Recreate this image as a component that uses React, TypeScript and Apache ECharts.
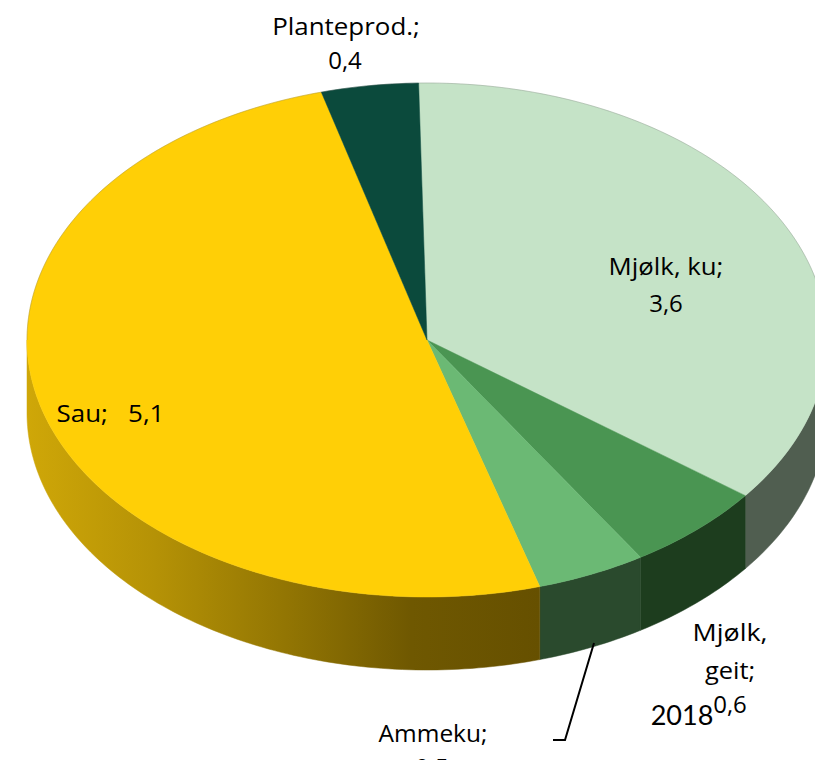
import React, { useEffect, useRef } from "react";
import * as echarts from "echarts";

const categories = ["Mjølk, ku", "Mjølk, geit", "Ammeku", "Sau", "Planteprod."];
const values = [3.64, 0.58, 0.45, 5.13, 0.4];
const topColors = ["#c5e3c7", "#4a9552", "#6bb974", "#ffcf06", "#0b4a3c"];
const sideColors: any[] = ["#505e50", "#1d3d1e", "#2a4a2d", null, "#0b4a3c"];
const sauSideStops = ["#cfa708", "#b59206", "#937603", "#6f5801", "#665000"];

const CX = 427, CY = 340, RX = 400, RY = 257, DEPTH = 73, START = -1.2;
const FONT = '"Open Sans", Lato, sans-serif';

const total = values.reduce((a, b) => a + b, 0);
const spans = values.map((_, i) => {
  const before = values.slice(0, i).reduce((a, b) => a + b, 0);
  return [START + (before / total) * 360, START + ((before + values[i]) / total) * 360];
});
const pt = (deg: number, dy = 0) => {
  const r = (deg * Math.PI) / 180;
  return [CX + RX * Math.sin(r), CY - RY * Math.cos(r) + dy];
};
const arc = (a: number, b: number, dy = 0) => {
  const n = Math.max(2, Math.ceil(Math.abs(b - a)));
  const out: number[][] = [];
  for (let i = 0; i <= n; i++) out.push(pt(a + ((b - a) * i) / n, dy));
  return out;
};
const fmt = (v: number) => v.toFixed(1).replace(".", ",");

const renderTop = (params: any) => {
  const i = params.dataIndex;
  const [a, b] = spans[i];
  const children: any[] = [
    {
      type: "polygon",
      shape: { points: [[CX, CY], ...arc(a, b)] },
      style: { fill: topColors[i], stroke: topColors[i], lineWidth: 0.5 },
    },
  ];
  // faint grey rim along the back half of the disc
  const rimA = a < 90 ? a : Math.max(a, 270);
  const rimB = a < 90 ? Math.min(b, 90) : b;
  if (rimB > rimA) {
    children.push({
      type: "polyline",
      shape: { points: arc(rimA, rimB) },
      style: { stroke: "rgba(90,90,90,0.25)", lineWidth: 1, fill: "none" },
    });
  }
  return { type: "group", children };
};

const renderSide = (params: any) => {
  const i = params.dataIndex;
  const a = Math.max(spans[i][0], 90);
  const b = Math.min(spans[i][1], 270);
  if (b <= a) return { type: "group", children: [] };
  const fill =
    sideColors[i] ??
    new echarts.graphic.LinearGradient(
      0, 0, 1, 0,
      sauSideStops.map((color, k) => ({ offset: k / (sauSideStops.length - 1), color }))
    );
  return {
    type: "polygon",
    shape: { points: [...arc(a, b), ...arc(b, a, DEPTH)] },
    style: { fill, stroke: fill, lineWidth: 0.5 },
  };
};

const label = (text: string, x: number, y: number, scaleX = 1, size = 24, family = FONT) => ({
  type: "text",
  x,
  y,
  scaleX,
  z: 100,
  style: { text, font: `${size}px ${family}`, fill: "#000", align: "center", verticalAlign: "middle" },
});

export default function App() {
  const ref = useRef<HTMLDivElement>(null);
  useEffect(() => {
    document.body.style.margin = "0";
    document.body.style.overflow = "hidden";
    const chart = echarts.init(ref.current!, null, { renderer: "svg" });
    chart.setOption({
      animation: false,
      backgroundColor: "#fff",
      series: [
        { type: "custom", name: "side", coordinateSystem: "none", silent: true, z: 2, data: values, renderItem: renderSide },
        { type: "custom", name: "top", coordinateSystem: "none", silent: true, z: 3, data: values, renderItem: renderTop },
      ],
      graphic: [
        label("Planteprod.;", 346, 25, 1.08),
        label(fmt(values[4]), 345, 59),
        label("Mjølk, ku;", 666, 265, 1.075),
        label(fmt(values[0]), 666, 302),
        label(`Sau;   ${fmt(values[3])}`, 110.5, 412, 1.08),
        label("Mjølk,", 730, 632, 1.12),
        label("geit;", 730, 670, 1.06),
        label(fmt(values[1]), 730, 703),
        label("Ammeku;", 433, 733, 1.02),
        label(fmt(values[2]), 432, 766),
        label("2018", 682, 714, 1, 27, "Lato, sans-serif"),
        {
          type: "polyline",
          z: 100,
          shape: { points: [[594, 643], [565, 740], [553, 740]] },
          style: { stroke: "#000", lineWidth: 2, fill: "none" },
        },
      ],
    });
    return () => chart.dispose();
  }, []);
  return <div ref={ref} style={{ width: 815, height: 760 }} />;
}
